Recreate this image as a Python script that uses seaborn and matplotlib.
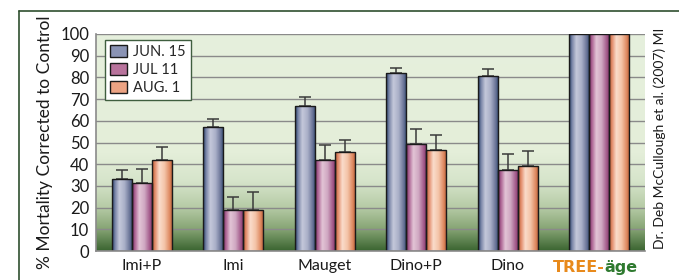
import numpy as np
import pandas as pd
import matplotlib
matplotlib.use("Agg")
import matplotlib.pyplot as plt
import seaborn as sns
from matplotlib.colors import LinearSegmentedColormap
from matplotlib.lines import Line2D

categories = ["Imi+P", "Imi", "Mauget", "Dino+P", "Dino", "TREE-äge"]
series = ["JUN. 15", "JUL 11", "AUG. 1"]
jun15 = [33, 57, 67, 82, 80.5, 100]
jul11 = [31.5, 19, 42, 49.5, 37.5, 100]
aug1 = [42, 19, 45.5, 46.5, 39, 100]
jun15_err = [4.5, 4, 4, 2.5, 3.5, 0]
jul11_err = [6.5, 6, 7, 6.5, 7, 0]
aug1_err = [6, 8, 5.5, 7, 7, 0]
yticks = [0, 10, 20, 30, 40, 50, 60, 70, 80, 90, 100]
ylabel = "% Mortality Corrected to Control"
credit = "Dr. Deb McCullough et al. (2007) MI"

values = [jun15, jul11, aug1]
errs = [jun15_err, jul11_err, aug1_err]
rows = []
for s, vals in zip(series, values):
    for c, v in zip(categories, vals):
        rows.append({"Treatment": c, "Date": s, "Value": v})
df = pd.DataFrame(rows)

sns.set_theme(style="white")
plt.rcParams['font.family'] = ['Lato', 'DejaVu Sans']

base_cols = ["#8a93b4", "#b8739c", "#eca383"]
grad_cols = [
    ["#26406a", "#7d88aa", "#c4c8da", "#aab0c8", "#6b7598", "#2e4770"],
    ["#7a2a62", "#b06a98", "#e2c4d6", "#d0a8c2", "#a45c8c", "#7e3066"],
    ["#b85a30", "#e49070", "#fadccb", "#f4c4a8", "#de8a62", "#b45a32"],
]

fig = plt.figure(figsize=(6.79, 2.80), dpi=100)
ax = fig.add_axes([96/679, 1-251/280, (645-96)/679, (251-34)/280])

# background gradient
bg = LinearSegmentedColormap.from_list("bg", [(0, "#3b6531"), (0.1, "#86a474"), (0.2, "#b6cba6"),
                                              (0.32, "#d6e4ca"), (0.45, "#e4eed9"), (1, "#e6f0dd")])
grad = np.linspace(0, 1, 256).reshape(-1, 1)
ax.imshow(grad, aspect="auto", cmap=bg, origin="lower", extent=(0, 1, 0, 1),
          transform=ax.transAxes, zorder=0)

sns.barplot(data=df, x="Treatment", y="Value", hue="Date", order=categories,
            hue_order=series, palette=base_cols, errorbar=None, width=0.66,
            edgecolor="#1a1a1a", linewidth=1.0, ax=ax, zorder=3, saturation=1)

ax.set_ylim(0, 100)
ax.set_xlim(-0.5, len(categories) - 0.5)

# gradients on bars + error bars
bar_conts = list(ax.containers)[:3]
for i, cont in enumerate(bar_conts):
    cmap = LinearSegmentedColormap.from_list(f"b{i}", list(zip([0, 0.15, 0.35, 0.6, 0.85, 1.0], grad_cols[i])))
    xs, ys = [], []
    for bar, e in zip(cont.patches, errs[i]):
        x0, w, h = bar.get_x(), bar.get_width(), bar.get_height()
        img = ax.imshow(np.linspace(0, 1, 64).reshape(1, -1), aspect="auto", cmap=cmap,
                        extent=(x0, x0 + w, 0, h), zorder=3.5)
        img.set_clip_path(bar)
        bar.set_facecolor("none")
        bar.set_zorder(4)
        xs.append(x0 + w / 2)
        ys.append(h)
    m = [j for j, e in enumerate(errs[i]) if e > 0]
    ax.errorbar([xs[j] for j in m], [ys[j] for j in m],
                yerr=[[0] * len(m), [errs[i][j] for j in m]], fmt="none",
                ecolor="#3a3a3a", elinewidth=1.1, capsize=4, capthick=1.1, zorder=2.5)
ax.set_xlim(-0.5, len(categories) - 0.5)
ax.set_ylim(0, 100)
ax.set_aspect("auto")

ax.set_yticks(yticks)
ax.set_yticklabels([str(t) for t in yticks], fontsize=12)
ax.yaxis.grid(True, color="#8a8a8a", linewidth=1.0, zorder=1)
ax.set_axisbelow(True)
for s in ["top", "right"]:
    ax.spines[s].set_visible(False)
for s in ["left", "bottom"]:
    ax.spines[s].set_color("#8a8a8a")
    ax.spines[s].set_linewidth(1.2)
    ax.spines[s].set_zorder(5)
ax.tick_params(axis="y", length=4, width=1, color="#8a8a8a", pad=1, labelcolor="#1a1a1a")
ax.tick_params(axis="x", length=0, pad=6, labelsize=11.5, labelcolor="#1a1a1a")
ax.set_xlabel("")
ax.set_ylabel(ylabel, fontsize=12.5, labelpad=5, color="#1a1a1a")
labels = list(categories)
labels[-1] = ""
ax.set_xticks(range(len(categories)))
ax.set_xticklabels(labels)

# TREE-äge logo as text
xt = ax.get_xaxis_transform()
ax.text(5.06, -0.097, "TREE-", transform=xt, ha="right", va="baseline",
        fontsize=11.5, fontweight="heavy", color="#e88a1c", family=["DejaVu Sans"])
ax.text(5.06, -0.097, "äge", transform=xt, ha="left", va="baseline",
        fontsize=11.5, fontweight="heavy", color="#2f7a30", family=["DejaVu Sans"])

leg = ax.legend(loc="upper left", bbox_to_anchor=(0.016, 0.972), frameon=True, fancybox=False,
                fontsize=10.5, handlelength=1.2, handleheight=0.9, handletextpad=0.4,
                borderpad=0.35, labelspacing=0.25, borderaxespad=0)
leg.get_frame().set_edgecolor("#3f5e3f")
leg.get_frame().set_linewidth(1.0)
leg.get_frame().set_facecolor("white")
leg.get_frame().set_alpha(1)
leg.set_zorder(10)

fig.text(660/679, 0.507, credit, rotation=90, ha="center", va="center", fontsize=10, color="#1a1a1a")

# frame lines
fig.add_artist(Line2D([19/679, 1], [1-11/280, 1-11/280], color="#2f4f2f", linewidth=1.2))
fig.add_artist(Line2D([19/679, 19/679], [0, 1-11/280], color="#2f4f2f", linewidth=1.2))

fig.savefig("out.png", dpi=100)
